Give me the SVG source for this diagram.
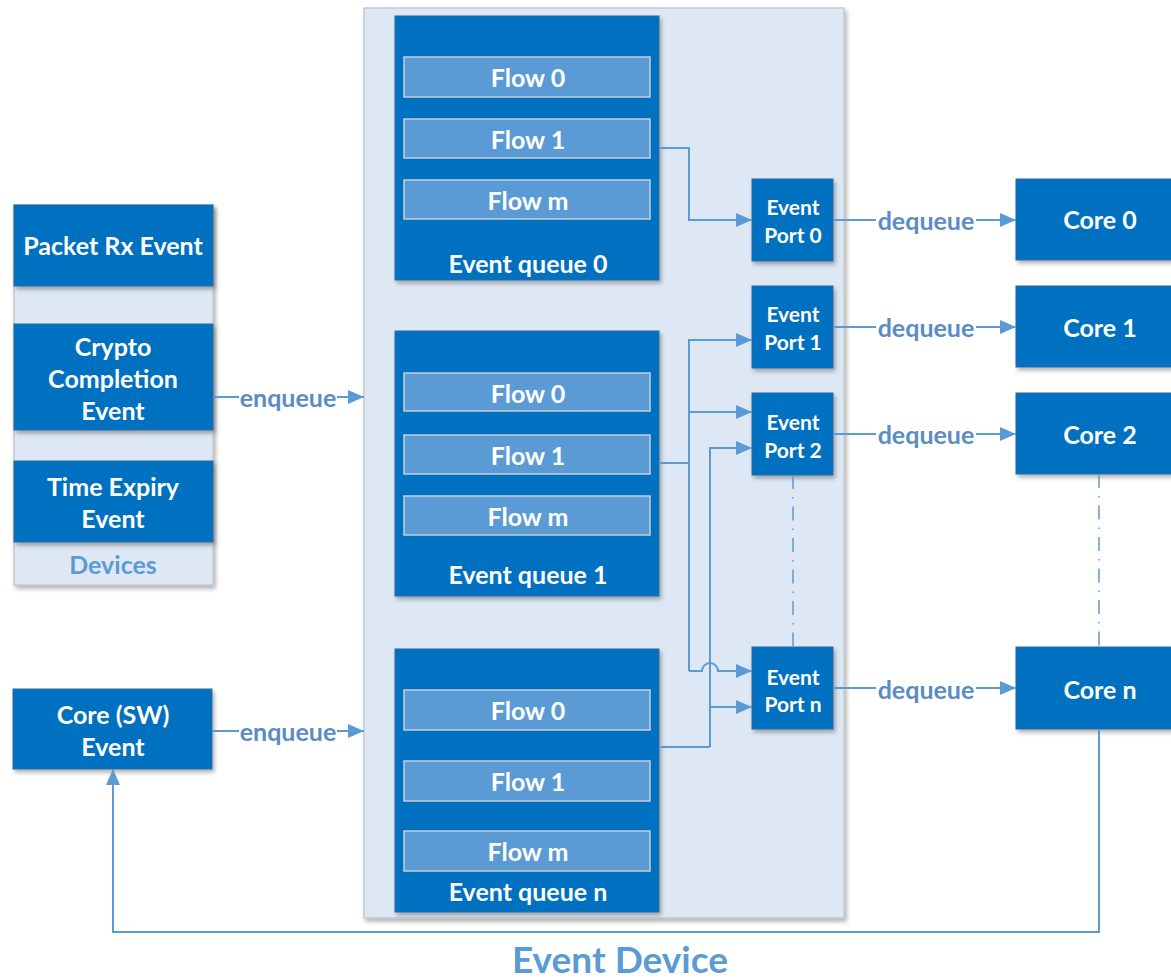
<svg xmlns="http://www.w3.org/2000/svg" width="1171" height="979" viewBox="0 0 1171 979">
<style>
.dk{fill:#0070C0;stroke:#2E6A9E;stroke-width:1;filter:url(#sh)}
.fl{fill:#5B9BD5;stroke:#C9CED6;stroke-width:1.5}
.bg{fill:#DEE8F4;stroke:#C4C8CE;stroke-width:1.5;filter:url(#sh)}
.t{font-family:Lato,"Open Sans",sans-serif;font-weight:bold;fill:#FFFFFF;text-anchor:middle;dominant-baseline:central}
.t22{font-size:25px}
.t19{font-size:21px}
.lb{font-family:Lato,"Open Sans",sans-serif;font-weight:bold;fill:#5A8CC4;font-size:25px;text-anchor:middle;dominant-baseline:central}
.c{fill:none;stroke:#5B9BD5;stroke-width:2}
.ca{fill:none;stroke:#5B9BD5;stroke-width:2;marker-end:url(#ah)}
.dd{fill:none;stroke:#5B9BD5;stroke-width:1.5;stroke-dasharray:14 8 1.5 8}
</style>
<defs>
<filter id="sh" x="-10%" y="-10%" width="130%" height="130%">
<feDropShadow dx="2" dy="3" stdDeviation="2" flood-color="#000" flood-opacity="0.3"/>
</filter>
<marker id="ah" viewBox="0 0 16 14" refX="16" refY="7" markerWidth="16" markerHeight="14" markerUnits="userSpaceOnUse" orient="auto">
<path d="M0,0 L16,7 L0,14 z" fill="#5B9BD5"/>
</marker>
</defs>
<rect width="1171" height="979" fill="#FFFFFF"/>

<g id="event-device">
<rect class="bg" x="364" y="8" width="480" height="910"/>
</g>

<g id="devices">
<rect class="bg" x="14" y="205" width="199" height="380"/>
<text class="lb" x="113" y="564" style="fill:#5B9BD5">Devices</text>
</g>
<g id="packet-rx-event">
<rect class="dk" x="14" y="205" width="199" height="81"/>
<text class="t t22" x="113" y="245">Packet Rx Event</text>
</g>
<g id="crypto-completion-event">
<rect class="dk" x="14" y="324" width="199" height="106"/>
<text class="t t22" x="113" y="346">Crypto</text>
<text class="t t22" x="113" y="378">Completion</text>
<text class="t t22" x="113" y="410">Event</text>
</g>
<g id="time-expiry-event">
<rect class="dk" x="14" y="461" width="199" height="81"/>
<text class="t t22" x="113" y="486">Time Expiry</text>
<text class="t t22" x="113" y="518">Event</text>
</g>
<g id="core-sw-event">
<rect class="dk" x="13" y="689" width="199" height="80"/>
<text class="t t22" x="113" y="714">Core (SW)</text>
<text class="t t22" x="113" y="746">Event</text>
</g>

<g id="event-queue-0">
<rect class="dk" x="395" y="16" width="264" height="264"/>
<rect class="fl" x="404" y="57" width="246" height="40"/>
<text class="t t22" x="528" y="77">Flow 0</text>
<rect class="fl" x="404" y="119" width="246" height="39"/>
<text class="t t22" x="528" y="139">Flow 1</text>
<rect class="fl" x="404" y="180" width="246" height="39"/>
<text class="t t22" x="528" y="200">Flow m</text>
<text class="t t22" x="528" y="263">Event queue 0</text>
</g>
<g id="event-queue-1">
<rect class="dk" x="395" y="331" width="264" height="265"/>
<rect class="fl" x="404" y="373" width="246" height="38"/>
<text class="t t22" x="528" y="393">Flow 0</text>
<rect class="fl" x="404" y="435" width="246" height="39"/>
<text class="t t22" x="528" y="455">Flow 1</text>
<rect class="fl" x="404" y="496" width="246" height="39"/>
<text class="t t22" x="528" y="516">Flow m</text>
<text class="t t22" x="528" y="574">Event queue 1</text>
</g>
<g id="event-queue-n">
<rect class="dk" x="395" y="649" width="264" height="263"/>
<rect class="fl" x="404" y="690" width="246" height="40"/>
<text class="t t22" x="528" y="710">Flow 0</text>
<rect class="fl" x="404" y="761" width="246" height="40"/>
<text class="t t22" x="528" y="781">Flow 1</text>
<rect class="fl" x="404" y="831" width="246" height="40"/>
<text class="t t22" x="528" y="851">Flow m</text>
<text class="t t22" x="528" y="891">Event queue n</text>
</g>

<g id="event-port-0">
<rect class="dk" x="752" y="179" width="81" height="82"/>
<text class="t t19" x="793" y="206">Event</text>
<text class="t t19" x="793" y="234">Port 0</text>
</g>
<g id="event-port-1">
<rect class="dk" x="752" y="286" width="81" height="82"/>
<text class="t t19" x="793" y="313">Event</text>
<text class="t t19" x="793" y="341">Port 1</text>
</g>
<g id="event-port-2">
<rect class="dk" x="752" y="393" width="81" height="82"/>
<text class="t t19" x="793" y="421">Event</text>
<text class="t t19" x="793" y="449">Port 2</text>
</g>
<g id="event-port-n">
<rect class="dk" x="752" y="647" width="81" height="82"/>
<text class="t t19" x="793" y="676">Event</text>
<text class="t t19" x="793" y="703">Port n</text>
</g>

<g id="core-0">
<rect class="dk" x="1016" y="179" width="160" height="81"/>
<text class="t t22" x="1100" y="219">Core 0</text>
</g>
<g id="core-1">
<rect class="dk" x="1016" y="286" width="160" height="81"/>
<text class="t t22" x="1100" y="327">Core 1</text>
</g>
<g id="core-2">
<rect class="dk" x="1016" y="393" width="160" height="81"/>
<text class="t t22" x="1100" y="434">Core 2</text>
</g>
<g id="core-n">
<rect class="dk" x="1016" y="647" width="160" height="82"/>
<text class="t t22" x="1100" y="689">Core n</text>
</g>

<g id="connectors">
<path class="c" d="M213,397 H239"/>
<text class="lb" x="288" y="397">enqueue</text>
<path class="ca" d="M337,397 H364"/>
<path class="c" d="M212,731 H239"/>
<text class="lb" x="288" y="731">enqueue</text>
<path class="ca" d="M337,731 H364"/>

<path class="ca" d="M659,148 H689 V220 H752"/>
<path class="c" d="M659,463 H689"/>
<path class="ca" d="M689,671 V340 H752"/>
<path class="ca" d="M689,412 H752"/>
<path class="ca" d="M689,671 H702 A8,8 0 0 1 718,671 H752"/>
<path class="c" d="M659,747 H710"/>
<path class="ca" d="M710,747 V448 H752"/>
<path class="ca" d="M710,707 H752"/>

<path class="c" d="M834,220 H876"/>
<text class="lb" x="926" y="220">dequeue</text>
<path class="ca" d="M976,220 H1016"/>
<path class="c" d="M834,327 H876"/>
<text class="lb" x="926" y="327">dequeue</text>
<path class="ca" d="M976,327 H1016"/>
<path class="c" d="M834,434 H876"/>
<text class="lb" x="926" y="434">dequeue</text>
<path class="ca" d="M976,434 H1016"/>
<path class="c" d="M834,688 H876"/>
<text class="lb" x="926" y="689">dequeue</text>
<path class="ca" d="M976,688 H1016"/>

<path class="dd" d="M793,475 V647"/>
<path class="dd" d="M1099,474 V647"/>

<path class="ca" d="M1099,729 V932 H113 V769"/>
</g>

<text x="620" y="973" style="font-family:Lato,'Open Sans',sans-serif;font-weight:bold;font-size:37px;fill:#5B9BD5;text-anchor:middle">Event Device</text>
</svg>
